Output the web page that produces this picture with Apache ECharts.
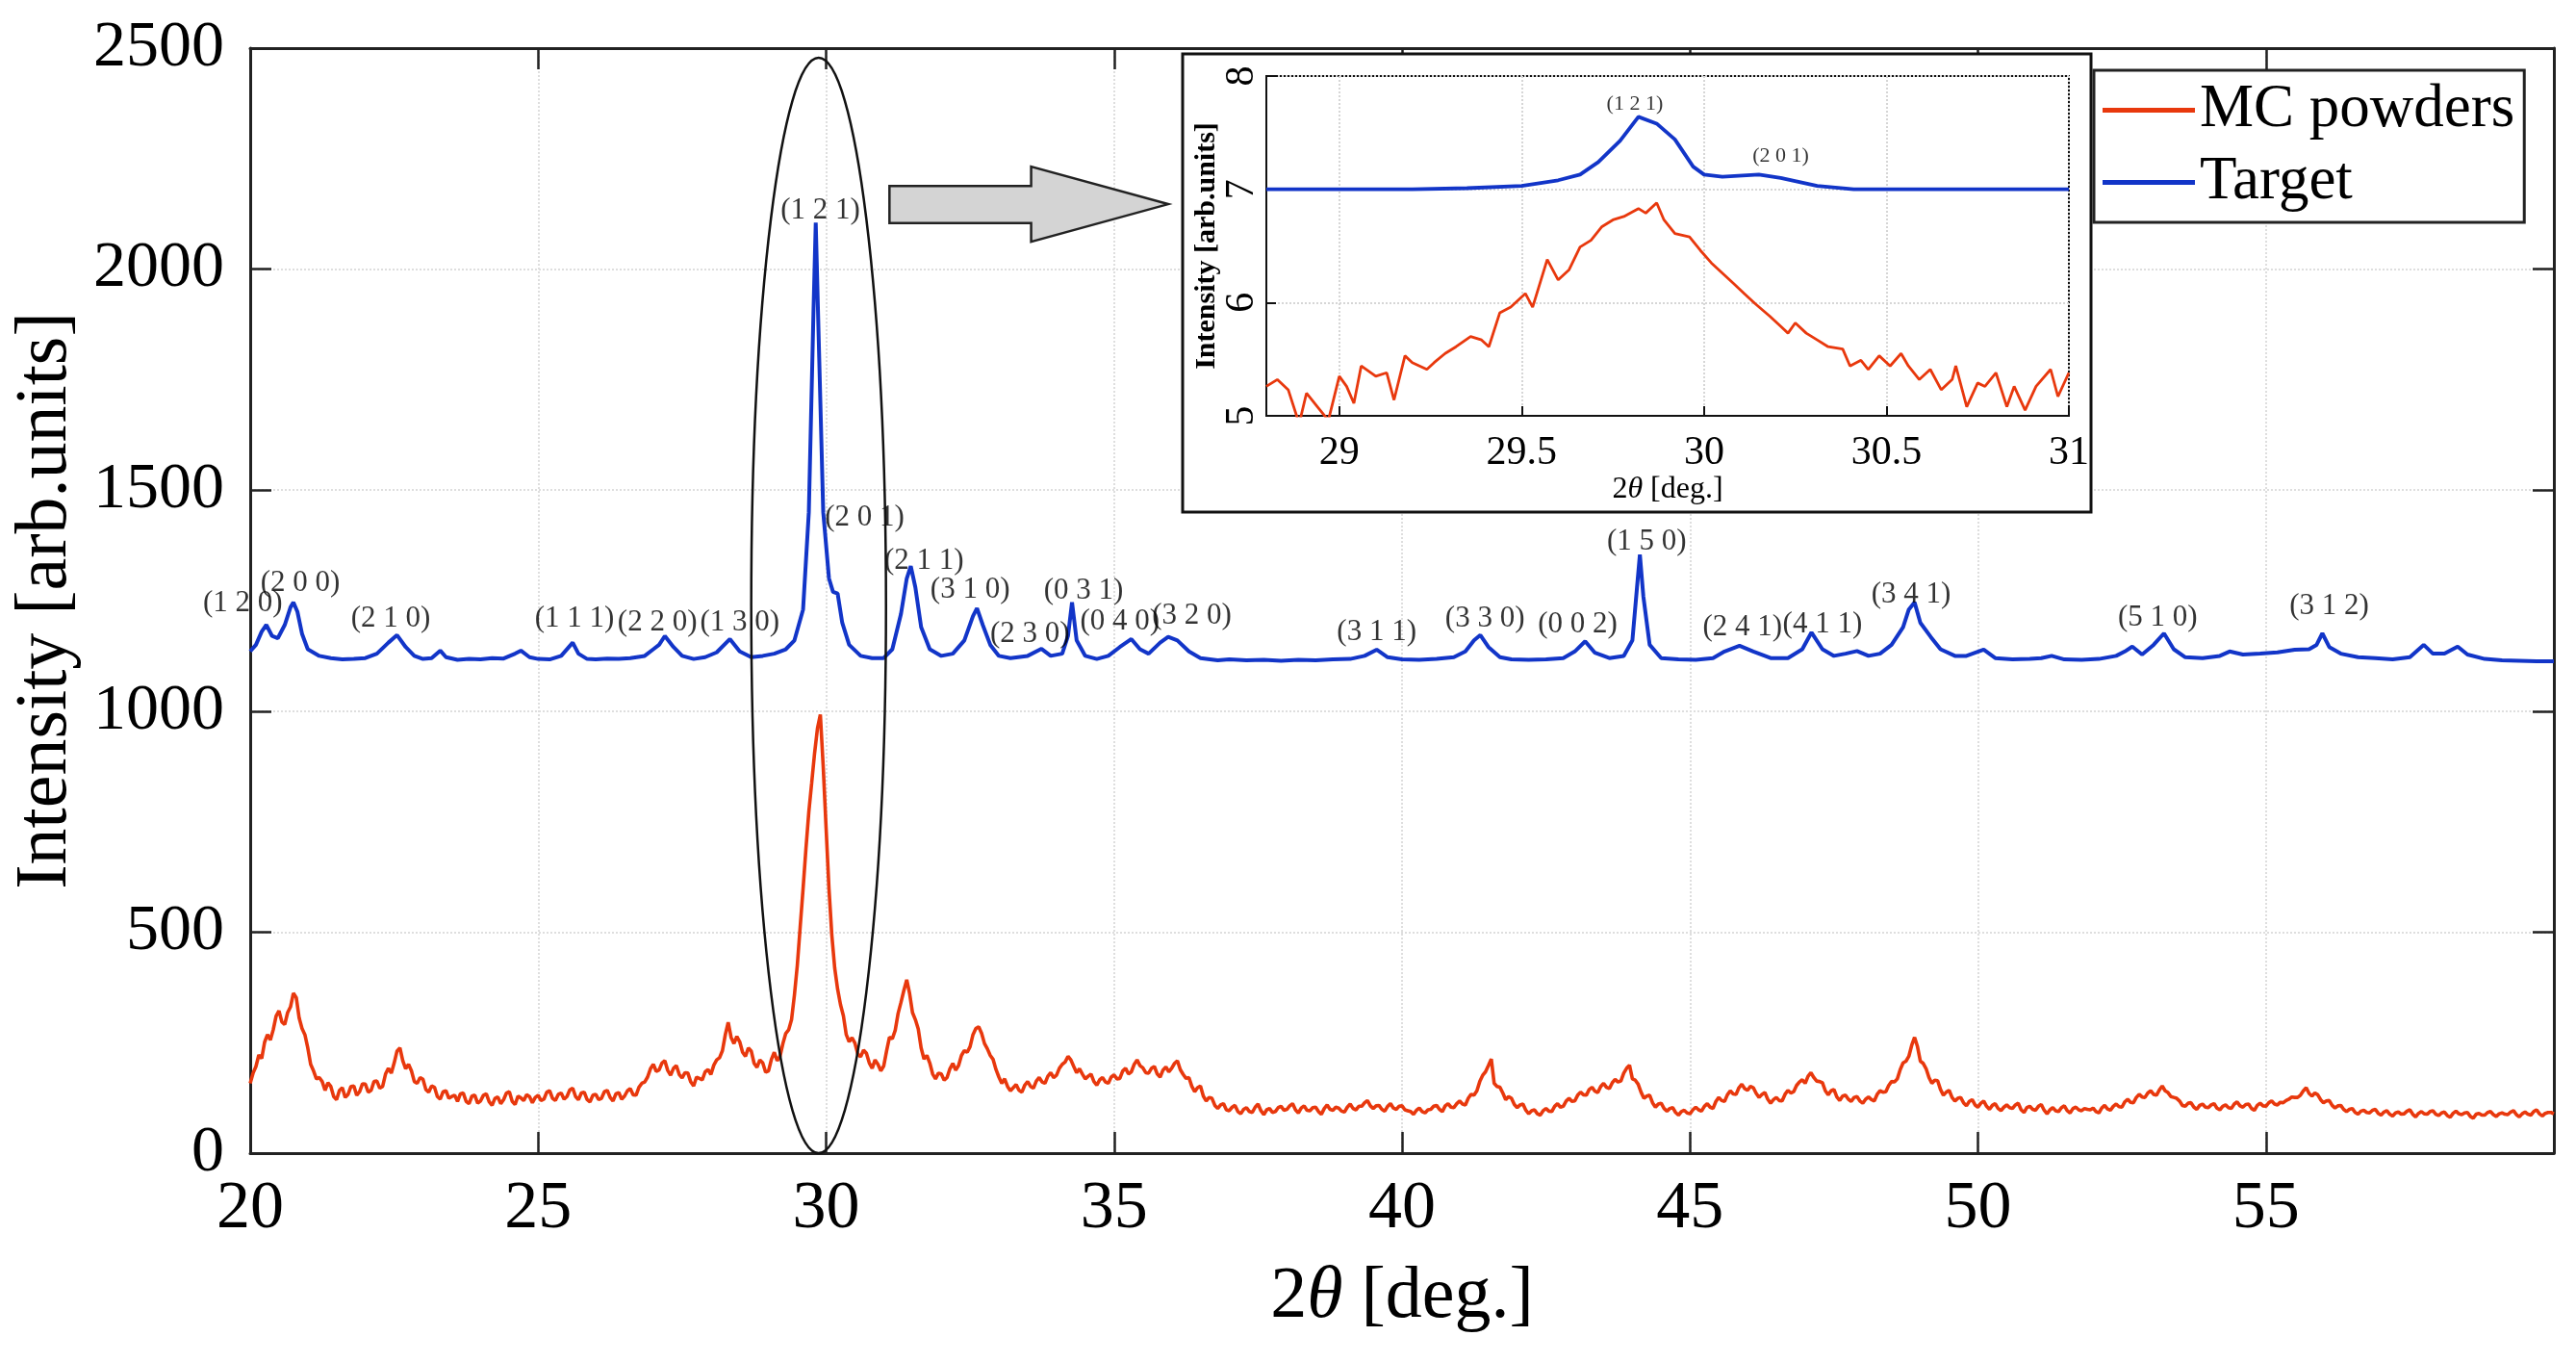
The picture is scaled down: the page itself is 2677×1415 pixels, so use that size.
<!DOCTYPE html>
<html>
<head>
<meta charset="utf-8">
<script src="https://cdn.jsdelivr.net/npm/echarts@6/dist/echarts.min.js"></script>
<style>
  html, body { margin: 0; padding: 0; background: #fff; }
  #chart { width: 2677px; height: 1415px; }
</style>
</head>
<body>
<div id="chart"></div>
<script>
var redStart = 20, redStep = 0.1;
var redValues = [
  158, 196, 214, 268, 279, 322, 291, 331, 352, 282,
  238, 186, 171, 142, 151, 121, 148, 133, 152, 139,
  156, 142, 163, 151, 192, 204, 238, 191, 186, 158,
  167, 138, 149, 122, 141, 128, 117, 136, 112, 131,
  118, 134, 108, 127, 121, 139, 110, 125, 132, 114,
  131, 122, 141, 119, 136, 128, 147, 121, 138, 116,
  133, 124, 142, 118, 137, 129, 146, 131, 158, 172,
  201, 188, 209, 176, 198, 170, 181, 152, 169, 184,
  178, 211, 232, 296, 248, 252, 219, 231, 194, 204,
  186, 228, 219, 271, 302, 425, 598, 772, 905, 992,
  735, 492, 371, 311, 252, 249, 218, 226, 192, 201,
  197, 262, 278, 341, 392, 318, 281, 213, 204, 168,
  179, 171, 203, 198, 232, 241, 282, 271, 236, 212,
  172, 168, 141, 155, 138, 162, 147, 171, 158, 182,
  176, 201, 219, 196, 191, 168, 179, 154, 171, 158,
  177, 169, 192, 184, 211, 193, 181, 196, 172, 195,
  192, 209, 178, 171, 139, 152, 118, 124, 101, 112,
  96, 108, 89, 103, 92, 111, 87, 101, 94, 106,
  99, 112, 91, 107, 96, 104, 88, 109, 97, 102,
  93, 111, 98, 106, 119, 101, 108, 95, 112, 99,
  107, 96, 88, 102, 91, 99, 108, 94, 112, 103,
  118, 109, 133, 141, 176, 198, 158, 149, 121, 124,
  103, 111, 89, 98, 86, 101, 94, 112, 106, 124,
  118, 138, 131, 149, 137, 158, 146, 167, 163, 192,
  168, 156, 124, 131, 104, 113, 95, 103, 86, 97,
  89, 104, 95, 112, 101, 126, 117, 141, 133, 156,
  142, 148, 126, 137, 113, 126, 118, 142, 139, 161,
  158, 182, 163, 159, 132, 144, 119, 131, 117, 128,
  113, 127, 118, 141, 139, 162, 168, 204, 219, 262,
  208, 191, 158, 164, 131, 142, 118, 126, 107, 121,
  104, 118, 99, 112, 96, 109, 101, 113, 92, 106,
  97, 110, 89, 103, 94, 107, 91, 104, 96, 99,
  102, 91, 108, 97, 111, 104, 122, 114, 133, 126,
  141, 131, 152, 137, 126, 118, 106, 114, 99, 111,
  103, 112, 98, 109, 101, 116, 104, 111, 97, 113,
  106, 118, 109, 114, 122, 126, 131, 148, 129, 132,
  114, 119, 102, 108, 94, 101, 88, 97, 91, 99,
  86, 96, 84, 93, 89, 98, 82, 94, 88, 96,
  85, 93, 81, 95, 87, 92, 79, 90, 86, 94,
  83, 91, 87, 96, 82, 93, 86, 98, 84, 92,
  89
];
// MC powders, the readings half-way between (20.05, 20.15, ... 59.95)
var redMidValues = [
  181, 222, 251, 256, 310, 297, 318, 362, 306, 268,
  201, 168, 162, 159, 128, 142, 126, 151, 131, 157,
  138, 162, 147, 179, 181, 231, 209, 201, 162, 171,
  144, 152, 128, 139, 124, 131, 134, 117, 129, 113,
  131, 116, 124, 112, 136, 117, 129, 119, 128, 126,
  119, 138, 124, 133, 122, 143, 128, 136, 121, 131,
  121, 139, 126, 134, 122, 141, 132, 149, 161, 191,
  185, 204, 187, 192, 178, 182, 161, 172, 166, 189,
  199, 216, 268, 262, 264, 228, 238, 203, 211, 183,
  212, 209, 248, 279, 358, 512, 689, 838, 961, 874,
  598, 418, 336, 268, 261, 224, 233, 204, 211, 186,
  231, 259, 316, 368, 361, 302, 238, 221, 179, 181,
  165, 191, 188, 221, 228, 268, 286, 248, 221, 189,
  158, 151, 148, 142, 154, 151, 163, 161, 174, 171,
  192, 206, 211, 182, 179, 174, 162, 166, 161, 172,
  168, 186, 179, 201, 198, 182, 192, 179, 188, 184,
  203, 189, 169, 151, 148, 129, 126, 108, 109, 98,
  104, 94, 99, 94, 104, 96, 98, 92, 103, 97,
  107, 98, 102, 97, 103, 94, 101, 99, 104, 95,
  104, 101, 106, 114, 107, 107, 99, 106, 102, 106,
  98, 94, 97, 94, 98, 106, 99, 107, 104, 112,
  111, 124, 131, 162, 184, 213, 151, 136, 128, 110,
  109, 97, 96, 89, 96, 95, 106, 104, 118, 117,
  131, 132, 144, 140, 151, 149, 159, 161, 181, 199,
  165, 138, 129, 114, 111, 101, 101, 92, 94, 91,
  98, 98, 106, 104, 117, 119, 132, 134, 148, 146,
  151, 135, 133, 122, 121, 119, 133, 136, 153, 166,
  174, 171, 162, 141, 141, 127, 129, 122, 126, 118,
  122, 121, 133, 138, 153, 161, 189, 208, 244, 241,
  203, 171, 165, 144, 138, 126, 124, 114, 117, 109,
  113, 106, 108, 101, 104, 103, 109, 98, 103, 99,
  106, 97, 98, 96, 103, 96, 101, 98, 101, 98,
  94, 102, 100, 106, 105, 116, 115, 126, 127, 136,
  133, 143, 141, 128, 124, 108, 113, 104, 108, 104,
  109, 102, 106, 103, 111, 107, 110, 101, 108, 107,
  114, 111, 115, 119, 127, 126, 141, 135, 136, 121,
  118, 108, 107, 99, 99, 92, 95, 92, 97, 90,
  93, 88, 91, 88, 95, 88, 90, 89, 94, 88,
  91, 85, 90, 89, 91, 83, 88, 86, 92, 87,
  89, 88, 93, 87, 89, 88, 94, 89, 90, 92
];

// Target [2theta, intensity]
var targetPoints = [
  [20.0, 1135], [20.1, 1150], [20.2, 1180], [20.28, 1195], [20.38, 1170], [20.48, 1165],
  [20.6, 1195], [20.7, 1235], [20.75, 1246], [20.82, 1225], [20.9, 1175], [21.0, 1140],
  [21.2, 1125], [21.4, 1120], [21.6, 1117], [21.8, 1118], [22.0, 1120], [22.2, 1130],
  [22.4, 1155], [22.55, 1172], [22.7, 1145], [22.85, 1125], [23.0, 1118], [23.15, 1120],
  [23.3, 1137], [23.4, 1122], [23.6, 1116], [23.8, 1118], [24.0, 1117], [24.2, 1120],
  [24.4, 1119], [24.6, 1130], [24.7, 1137], [24.85, 1122], [25.0, 1118], [25.2, 1117],
  [25.4, 1125], [25.6, 1155], [25.7, 1130], [25.85, 1118], [26.0, 1117], [26.2, 1119],
  [26.4, 1118], [26.6, 1120], [26.85, 1125], [27.0, 1140], [27.1, 1150], [27.2, 1170],
  [27.35, 1145], [27.5, 1125], [27.7, 1118], [27.9, 1122], [28.1, 1133], [28.33, 1163],
  [28.5, 1135], [28.7, 1122], [28.9, 1125], [29.1, 1130], [29.3, 1140], [29.45, 1160],
  [29.6, 1230], [29.7, 1450], [29.78, 1900], [29.82, 2105], [29.88, 1800], [29.95, 1450],
  [30.05, 1300], [30.12, 1270], [30.2, 1266], [30.28, 1200], [30.4, 1150], [30.6, 1125],
  [30.8, 1120], [31.0, 1120], [31.15, 1140], [31.3, 1220], [31.4, 1300], [31.47, 1328],
  [31.55, 1280], [31.65, 1190], [31.8, 1140], [32.0, 1125], [32.2, 1130], [32.4, 1160],
  [32.55, 1215], [32.62, 1233], [32.72, 1195], [32.85, 1150], [33.0, 1125], [33.2, 1120],
  [33.5, 1125], [33.74, 1141], [33.9, 1125], [34.1, 1130], [34.2, 1170], [34.27, 1246],
  [34.35, 1160], [34.5, 1125], [34.7, 1118], [34.9, 1125], [35.1, 1145], [35.3, 1163],
  [35.45, 1140], [35.6, 1130], [35.8, 1155], [35.94, 1168], [36.1, 1160], [36.3, 1135],
  [36.5, 1120], [36.8, 1115], [37.0, 1117], [37.3, 1115], [37.6, 1116], [37.9, 1114],
  [38.2, 1116], [38.5, 1115], [38.8, 1117], [39.1, 1118], [39.35, 1125], [39.56, 1139],
  [39.75, 1122], [40.0, 1117], [40.3, 1116], [40.6, 1118], [40.9, 1122], [41.1, 1135],
  [41.25, 1160], [41.36, 1172], [41.5, 1145], [41.7, 1122], [41.9, 1117], [42.2, 1116],
  [42.5, 1117], [42.8, 1120], [43.0, 1135], [43.18, 1158], [43.35, 1132], [43.6, 1120],
  [43.85, 1125], [44.0, 1160], [44.08, 1280], [44.13, 1354], [44.19, 1260], [44.3, 1150],
  [44.5, 1120], [44.8, 1117], [45.1, 1116], [45.4, 1120], [45.6, 1135], [45.86, 1148],
  [46.1, 1135], [46.4, 1120], [46.7, 1120], [46.95, 1140], [47.11, 1178], [47.3, 1140],
  [47.5, 1125], [47.7, 1130], [47.9, 1136], [48.1, 1125], [48.3, 1130], [48.5, 1150],
  [48.7, 1190], [48.8, 1230], [48.9, 1246], [49.0, 1200], [49.18, 1168], [49.35, 1140],
  [49.6, 1125], [49.8, 1125], [50.1, 1139], [50.3, 1120], [50.6, 1117], [50.9, 1118],
  [51.1, 1120], [51.28, 1125], [51.5, 1117], [51.8, 1116], [52.1, 1118], [52.4, 1125],
  [52.55, 1135], [52.68, 1146], [52.85, 1128], [53.05, 1150], [53.23, 1176], [53.4, 1140],
  [53.6, 1122], [53.9, 1120], [54.2, 1125], [54.37, 1135], [54.6, 1128], [54.9, 1130],
  [55.2, 1133], [55.5, 1139], [55.75, 1140], [55.88, 1150], [55.98, 1176], [56.1, 1145],
  [56.3, 1130], [56.6, 1122], [56.9, 1120], [57.2, 1117], [57.5, 1122], [57.74, 1150],
  [57.9, 1130], [58.1, 1130], [58.33, 1146], [58.5, 1128], [58.8, 1118], [59.1, 1115],
  [59.4, 1114], [59.7, 1113], [60.0, 1113]
];

// Miller indices over the Target peaks
var peakNames = ['(1 2 0)', '(2 0 0)', '(2 1 0)', '(1 1 1)', '(2 2 0)', '(1 3 0)', '(1 2 1)', '(2 0 1)',
  '(2 1 1)', '(3 1 0)', '(2 3 0)', '(0 3 1)', '(0 4 0)', '(3 2 0)', '(3 1 1)', '(3 3 0)',
  '(0 0 2)', '(1 5 0)', '(2 4 1)', '(4 1 1)', '(3 4 1)', '(5 1 0)', '(3 1 2)'];
var peakX = [19.87, 20.87, 22.44, 25.63, 27.07, 28.5, 29.9, 30.67, 31.7, 32.5, 33.54, 34.47, 35.1, 36.35,
  39.56, 41.44, 43.05, 44.25, 45.91, 47.3, 48.84, 53.12, 56.1];
var peakY = [1244, 1289, 1208, 1208, 1200, 1200, 2132, 1437, 1339, 1274, 1174, 1272, 1202, 1215,
  1179, 1209, 1195, 1384, 1190, 1195, 1263, 1211, 1237];

// inset: zoom on the (1 2 1) peak, normalised log intensity
var insetTarget = [
  [28.8, 7.0], [29.0, 7.0], [29.2, 7.0], [29.35, 7.01], [29.5, 7.03], [29.6, 7.08], [29.66, 7.13],
  [29.71, 7.24], [29.77, 7.43], [29.82, 7.64], [29.87, 7.58], [29.92, 7.44], [29.97, 7.2], [30.0, 7.13],
  [30.05, 7.11], [30.15, 7.13], [30.21, 7.1], [30.31, 7.03], [30.41, 7.0], [30.6, 7.0], [31.0, 7.0]
];
var insetPowder = [
  [28.80, 5.26], [28.83, 5.32], [28.86, 5.23], [28.89, 4.93], [28.91, 5.2], [28.94, 5.08], [28.97, 4.96],
  [29.0, 5.35], [29.02, 5.26], [29.04, 5.11], [29.06, 5.44], [29.1, 5.35], [29.13, 5.38], [29.15, 5.14],
  [29.18, 5.53], [29.2, 5.47], [29.24, 5.41], [29.26, 5.47], [29.29, 5.55], [29.32, 5.61], [29.36, 5.7],
  [29.39, 5.67], [29.41, 5.61], [29.44, 5.91], [29.47, 5.96], [29.51, 6.08], [29.53, 5.96], [29.57, 6.38],
  [29.6, 6.2], [29.63, 6.29], [29.66, 6.49], [29.69, 6.55], [29.72, 6.67], [29.75, 6.73], [29.78, 6.76],
  [29.82, 6.83], [29.84, 6.79], [29.87, 6.88], [29.89, 6.73], [29.92, 6.61], [29.96, 6.58], [29.99, 6.46],
  [30.02, 6.35], [30.05, 6.26], [30.08, 6.17], [30.11, 6.08], [30.14, 5.99], [30.18, 5.88], [30.21, 5.79],
  [30.23, 5.73], [30.25, 5.82], [30.28, 5.73], [30.31, 5.67], [30.34, 5.61], [30.38, 5.59], [30.4, 5.44],
  [30.43, 5.49], [30.45, 5.41], [30.48, 5.53], [30.51, 5.44], [30.54, 5.55], [30.56, 5.44], [30.59, 5.32],
  [30.62, 5.41], [30.65, 5.23], [30.68, 5.32], [30.69, 5.44], [30.72, 5.08], [30.75, 5.29], [30.77, 5.26],
  [30.8, 5.38], [30.83, 5.08], [30.85, 5.26], [30.88, 5.05], [30.91, 5.26], [30.95, 5.41], [30.97, 5.17],
  [31.0, 5.38]
];
var insetTagNames = ['(1 2 1)', '(2 0 1)'];
var insetTagX = [29.81, 30.21];
var insetTagY = [7.75, 7.29];

var insetXTicks = [29, 29.5, 30, 30.5, 31];

var RED = '#e8380d';
var BLUE = '#1235c8';
var serif = '"Liberation Serif", "Times New Roman", serif';

var chart = echarts.init(document.getElementById('chart'));

// merge the two reading sets in order of 2theta
var redData = [];
redValues.forEach(function (v, i) {
  var x = redStart + i * redStep;
  redData.push([+x.toFixed(2), v]);
  if (i < redMidValues.length) redData.push([+(x + redStep / 2).toFixed(2), redMidValues[i]]);
});
function tags(names, xs, ys) {
  return names.map(function (n, i) {
    return { name: n, value: [xs[i], ys[i]] };
  });
}
function plain(v) { return String(v); }

var axisCol = '#222';
var gridLine = { show: true, lineStyle: { color: '#dedede', type: 'dotted', width: 2 } };

var option = {
  animation: false,
  backgroundColor: '#fff',
  grid: [
    { left: 260, top: 50, width: 2394, height: 1148, outerBoundsMode: 'none', containLabel: false },
    { left: 1316, top: 79, width: 834, height: 353, show: true, backgroundColor: '#fff',
      borderColor: '#111', borderWidth: 2, z: 60, outerBoundsMode: 'none', containLabel: false }
  ],
  legend: {
    data: ['MC powders', 'Target'],
    orient: 'vertical',
    left: 2176, top: 73,
    padding: [10, 10, 10, 9],
    itemWidth: 96, itemHeight: 5, itemGap: 12,
    icon: 'rect',
    backgroundColor: '#fff',
    borderColor: '#222', borderWidth: 3,
    selectedMode: false,
    textStyle: { fontFamily: serif, fontSize: 63, lineHeight: 62, color: '#000' },
    z: 70
  },
  xAxis: [
    {
      type: 'value', gridIndex: 0, min: 20, max: 60, interval: 5,
      axisLine: { onZero: false, lineStyle: { color: axisCol, width: 3 } },
      axisTick: { inside: true, length: 22, lineStyle: { color: axisCol, width: 2.5 } },
      axisLabel: {
        fontFamily: serif, fontSize: 70, color: '#000', margin: 24,
        formatter: function (v) { return v === 60 ? '' : String(v); }
      },
      splitLine: gridLine,
      name: '{n|2}{t|θ}{n| [deg.]}',
      nameLocation: 'middle', nameGap: 112,
      nameTextStyle: {
        color: '#000',
        rich: {
          n: { fontFamily: serif, fontSize: 76, color: '#000' },
          t: { fontFamily: serif, fontSize: 76, fontStyle: 'italic', color: '#000' }
        }
      }
    },
    {
      type: 'value', gridIndex: 0, min: 20, max: 60, interval: 5, position: 'top',
      axisLine: { onZero: false, lineStyle: { color: axisCol, width: 3 } },
      axisTick: { inside: true, length: 22, lineStyle: { color: axisCol, width: 2.5 } },
      axisLabel: { show: false },
      splitLine: { show: false }
    },
    {
      type: 'value', gridIndex: 1, min: 28.8, max: 31, z: 60,
      axisLine: { onZero: false, lineStyle: { color: '#111', width: 2 } },
      axisTick: { inside: true, length: 10, customValues: insetXTicks, lineStyle: { color: '#111', width: 2 } },
      axisLabel: { fontFamily: serif, fontSize: 42, color: '#000', margin: 18, customValues: insetXTicks },
      splitLine: { show: true, lineStyle: { color: '#d6d6d6', type: 'dotted', width: 2 } },
      name: '{n|2}{t|θ}{n| [deg.]}',
      nameLocation: 'middle', nameGap: 54,
      nameTextStyle: {
        color: '#000',
        rich: {
          n: { fontFamily: serif, fontSize: 32, color: '#000' },
          t: { fontFamily: serif, fontSize: 32, fontStyle: 'italic', color: '#000' }
        }
      }
    }
  ],
  yAxis: [
    {
      type: 'value', gridIndex: 0, min: 0, max: 2500, interval: 500,
      axisLine: { show: true, onZero: false, lineStyle: { color: axisCol, width: 3 } },
      axisTick: { show: true, inside: true, length: 22, lineStyle: { color: axisCol, width: 2.5 } },
      axisLabel: { fontFamily: serif, fontSize: 68, color: '#000', margin: 27, formatter: plain },
      splitLine: gridLine,
      name: 'Intensity [arb.units]',
      nameLocation: 'middle', nameGap: 154,
      nameTextStyle: { fontFamily: serif, fontSize: 76, color: '#000' }
    },
    {
      type: 'value', gridIndex: 0, min: 0, max: 2500, interval: 500, position: 'right',
      axisLine: { show: true, onZero: false, lineStyle: { color: axisCol, width: 3 } },
      axisTick: { show: true, inside: true, length: 22, lineStyle: { color: axisCol, width: 2.5 } },
      axisLabel: { show: false },
      splitLine: { show: false }
    },
    {
      type: 'value', gridIndex: 1, min: 5, max: 8, interval: 1, z: 60,
      axisLine: { show: true, onZero: false, lineStyle: { color: '#111', width: 2 } },
      axisTick: { show: true, inside: true, length: 10, lineStyle: { color: '#111', width: 2 } },
      axisLabel: { fontFamily: serif, fontSize: 42, color: '#000', margin: 4, rotate: 90, formatter: plain },
      splitLine: { show: true, lineStyle: { color: '#d6d6d6', type: 'dotted', width: 2 } },
      name: 'Intensity [arb.units]',
      nameLocation: 'middle', nameGap: 34,
      nameTextStyle: { fontFamily: serif, fontSize: 30, fontWeight: 'bold', color: '#000' }
    }
  ],
  series: [
    {
      name: 'MC powders', type: 'line', xAxisIndex: 0, yAxisIndex: 0,
      data: redData, showSymbol: false, color: RED,
      lineStyle: { color: RED, width: 3.6 }, z: 3
    },
    {
      name: 'Target', type: 'line', xAxisIndex: 0, yAxisIndex: 0,
      data: targetPoints, showSymbol: false, color: BLUE,
      lineStyle: { color: BLUE, width: 4 }, z: 3
    },
    {
      name: 'peaks', type: 'scatter', xAxisIndex: 0, yAxisIndex: 0,
      data: tags(peakNames, peakX, peakY), symbolSize: 0, clip: false, silent: true,
      label: { show: true, position: 'inside', formatter: '{b}', fontFamily: serif, fontSize: 31, color: '#000' },
      z: 4
    },
    {
      name: 'inset MC', type: 'line', xAxisIndex: 2, yAxisIndex: 2,
      data: insetPowder, showSymbol: false, color: RED,
      lineStyle: { color: RED, width: 2.8 }, z: 61
    },
    {
      name: 'inset Target', type: 'line', xAxisIndex: 2, yAxisIndex: 2,
      data: insetTarget, showSymbol: false, color: BLUE,
      lineStyle: { color: BLUE, width: 3.8 }, z: 61
    },
    {
      name: 'inset peaks', type: 'scatter', xAxisIndex: 2, yAxisIndex: 2,
      data: tags(insetTagNames, insetTagX, insetTagY), symbolSize: 0, silent: true,
      label: { show: true, position: 'inside', formatter: '{b}', fontFamily: serif, fontSize: 22, color: '#000' },
      z: 62
    }
  ]
};

chart.setOption(option);

// ellipse round the (1 2 1) peak and the arrow towards the inset
function px(x, y) { return chart.convertToPixel({ gridIndex: 0 }, [x, y]); }
var eTop = px(29.87, 2478), eBot = px(29.87, 0), eSide = px(31.04, 1000);
var a = [
  px(31.1, 2188), px(33.56, 2188), px(33.56, 2232), px(35.94, 2147),
  px(33.56, 2062), px(33.56, 2104), px(31.1, 2104)
];

chart.setOption({
  graphic: [
    {
      type: 'rect', z: 50,
      shape: { x: 1229, y: 56, width: 944, height: 476 },
      style: { fill: '#fff', stroke: '#111', lineWidth: 3 }
    },
    {
      type: 'ellipse', z: 5,
      shape: { cx: eTop[0], cy: (eTop[1] + eBot[1]) / 2, rx: eSide[0] - eTop[0], ry: (eBot[1] - eTop[1]) / 2 },
      style: { fill: 'none', stroke: '#111', lineWidth: 2.5 }
    },
    {
      type: 'polygon', z: 6,
      shape: { points: a },
      style: { fill: '#d4d4d4', stroke: '#222', lineWidth: 2.5 }
    }
  ]
});
</script>
</body>
</html>
